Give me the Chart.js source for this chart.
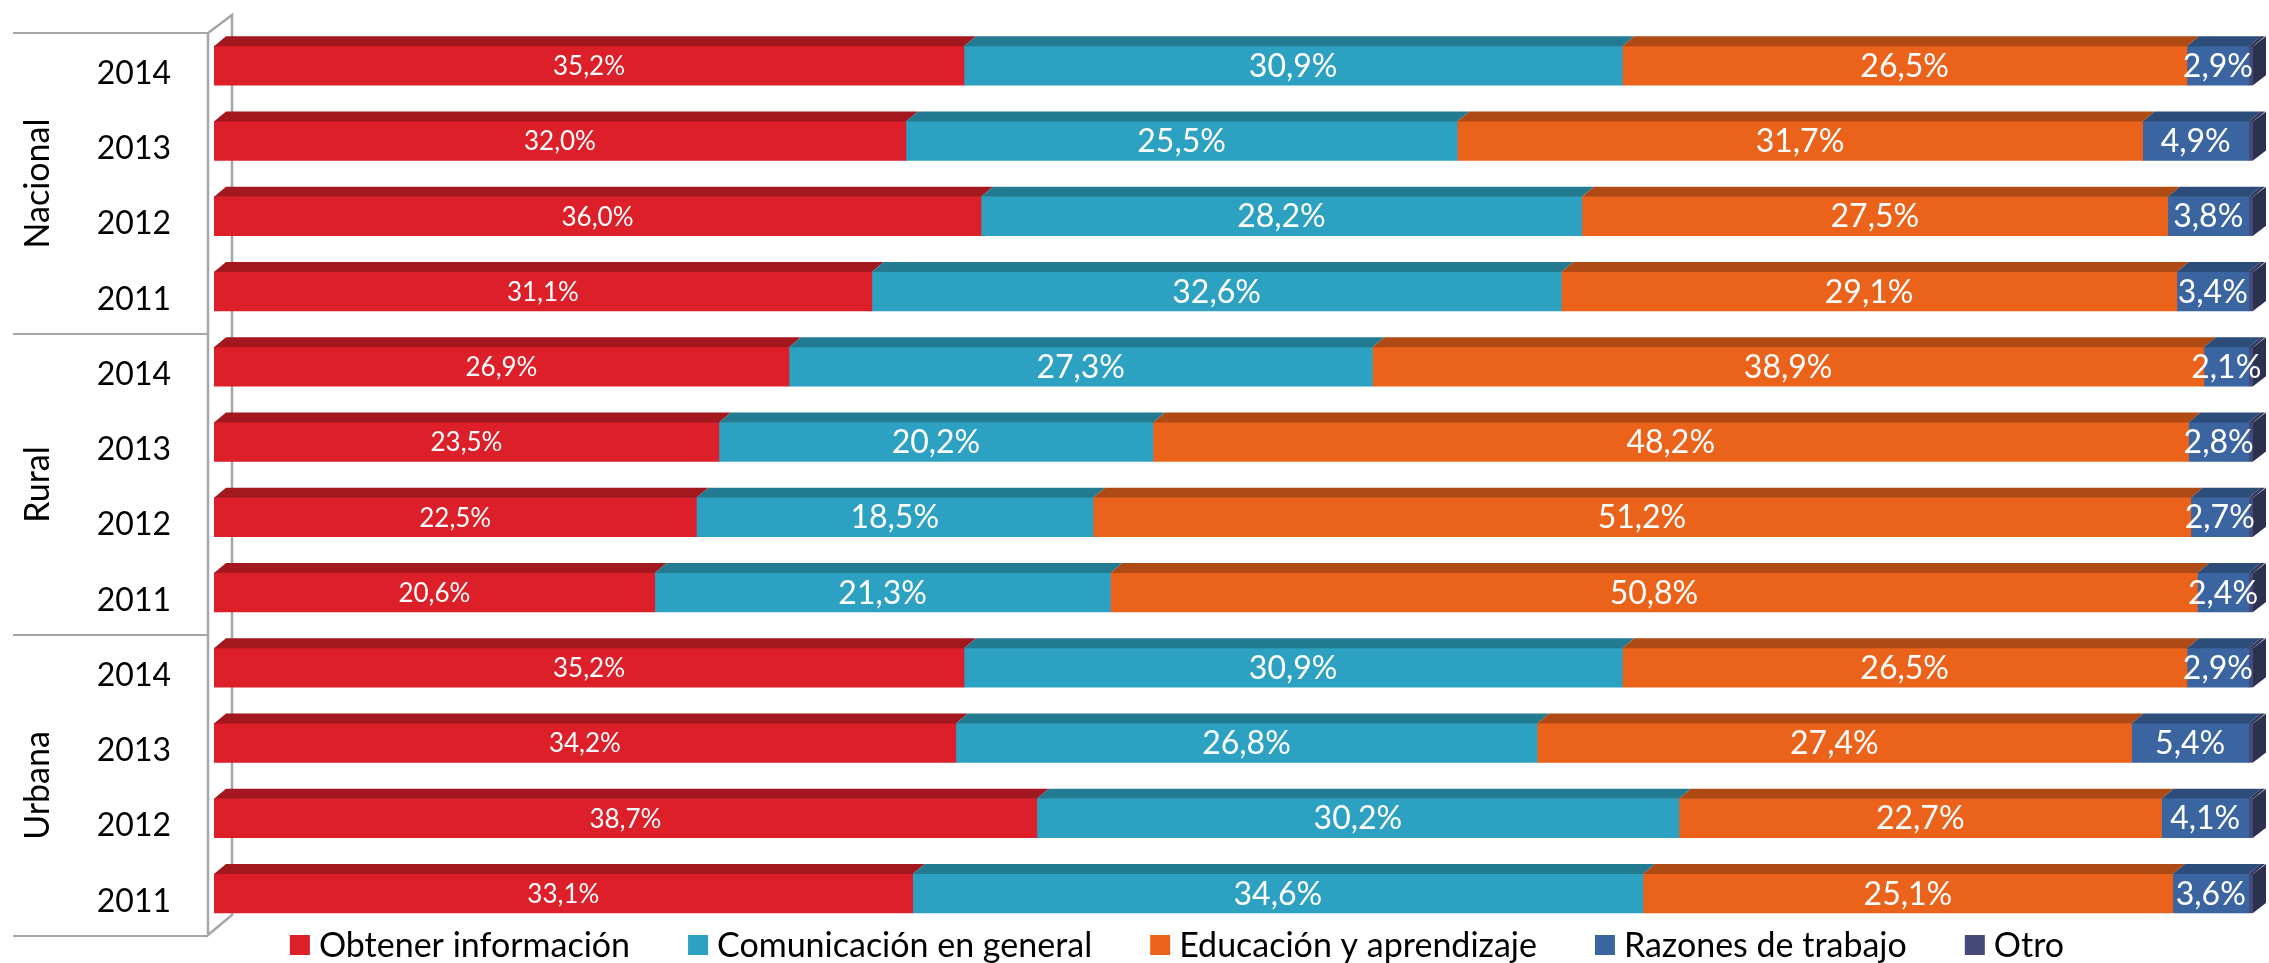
<!DOCTYPE html>
<html>
<head>
<meta charset="utf-8">
<script src="https://cdn.jsdelivr.net/npm/chart.js@4.4.1/dist/chart.umd.min.js"></script>
<style>
  html, body { margin: 0; padding: 0; background: #fff; }
  #wrap { width: 2269px; height: 963px; }
</style>
</head>
<body>
<div id="wrap"><canvas id="chart" width="2269" height="963"></canvas></div>
<script>
// ── DATA ─────────────────────────────────────────
const groups = ['Nacional', 'Rural', 'Urbana'];
const rowLabels = [
  '2014', '2013', '2012', '2011',
  '2014', '2013', '2012', '2011',
  '2014', '2013', '2012', '2011'
];

const obtenerInfo  = [35.2, 32.0, 36.0, 31.1, 26.9, 23.5, 22.5, 20.6, 35.2, 34.2, 38.7, 33.1];
const comunicacion = [30.9, 25.5, 28.2, 32.6, 27.3, 20.2, 18.5, 21.3, 30.9, 26.8, 30.2, 34.6];
const educacion    = [26.5, 31.7, 27.5, 29.1, 38.9, 48.2, 51.2, 50.8, 26.5, 27.4, 22.7, 25.1];
const trabajo      = [2.9, 4.9, 3.8, 3.4, 2.1, 2.8, 2.7, 2.4, 2.9, 5.4, 4.1, 3.6];
const otro         = [0.2, 0.2, 0.2, 0.2, 0.2, 0.2, 0.2, 0.2, 0.2, 0.2, 0.2, 0.2];

const FONT = 'Lato, "Open Sans", sans-serif';
const DEPTH_X = 12, DEPTH_Y = 10;

// bars are drawn as 100% stacked, so each row is scaled to its own total
const rawSeries = [obtenerInfo, comunicacion, educacion, trabajo, otro];
const totals = rowLabels.map((_, i) => rawSeries.reduce((s, arr) => s + arr[i], 0));
const share = arr => arr.map((v, i) => v / totals[i] * 100);

function ds(label, raw, front, top, labelSize) {
  return {
    label, data: share(raw), raw,
    backgroundColor: front, topColor: top, labelSize,
    barThickness: 39, borderWidth: 0
  };
}

const datasets = [
  ds('Obtener información', obtenerInfo, '#DC1F29', '#A3171F', 26),
  ds('Comunicación en general', comunicacion, '#2CA1C1', '#237B91', 32),
  ds('Educación y aprendizaje', educacion, '#EB631B', '#B04A14', 32),
  ds('Razones de trabajo', trabajo, '#3A65A0', '#2C4D79', 32),
  ds('Otro', otro, '#464A7B', '#343860', 0)
];

// back wall + group separators of the 3d frame
const wallPlugin = {
  id: 'wall',
  beforeDatasetsDraw(chart) {
    const { ctx, chartArea } = chart;
    const y = chart.scales.y;
    const step = y.getPixelForValue(1) - y.getPixelForValue(0);
    const top = y.getPixelForValue(0) - step / 2;
    const bottom = y.getPixelForValue(rowLabels.length - 1) + step / 2;
    const frontX = chartArea.left - 6, backX = chartArea.left + 18;
    ctx.save();
    ctx.strokeStyle = '#A6A6A6';
    ctx.lineWidth = 2.5;
    ctx.beginPath();
    ctx.moveTo(frontX, top + 5); ctx.lineTo(backX, top - 13);
    ctx.lineTo(backX, bottom - 16);
    ctx.lineTo(frontX, bottom + 4);
    ctx.lineTo(frontX, top + 5);
    ctx.stroke();

    ctx.lineWidth = 2;
    ctx.beginPath();
    for (let g = 0; g <= groups.length; g++) {
      const yy = Math.round(top + g * 4 * step + 5);
      ctx.moveTo(13, yy); ctx.lineTo(frontX, yy);
    }
    ctx.stroke();
    ctx.fillStyle = '#000';
    ctx.font = '34px ' + FONT;
    ctx.textAlign = 'center';
    ctx.textBaseline = 'middle';
    groups.forEach((g, gi) => {
      const cy = top + (gi * 4 + 2) * step + 5;
      ctx.save();
      ctx.translate(38, cy);
      ctx.rotate(-Math.PI / 2);
      ctx.fillText(g, 0, 0);
      ctx.restore();
    });
    ctx.restore();
  }
};

// top faces, end cap and value labels
const bar3dPlugin = {
  id: 'bar3d',
  afterDatasetsDraw(chart) {
    const { ctx } = chart;
    const last = chart.data.datasets.length - 1;
    ctx.save();
    chart.data.datasets.forEach((d, di) => {
      chart.getDatasetMeta(di).data.forEach(el => {
        const { x, y, base, height } = el.getProps(['x', 'y', 'base', 'height'], true);
        const t = y - height / 2, b = y + height / 2;
        ctx.fillStyle = d.topColor;
        ctx.beginPath();
        ctx.moveTo(base, t); ctx.lineTo(x, t);
        ctx.lineTo(x + DEPTH_X, t - DEPTH_Y); ctx.lineTo(base + DEPTH_X, t - DEPTH_Y);
        ctx.closePath(); ctx.fill();
        if (di === last) {
          ctx.fillStyle = '#2D3150';
          ctx.beginPath();
          ctx.moveTo(x, t); ctx.lineTo(x + DEPTH_X + 1, t - DEPTH_Y);
          ctx.lineTo(x + DEPTH_X + 1, b - DEPTH_Y); ctx.lineTo(x, b);
          ctx.closePath(); ctx.fill();
        }
      });
    });

    ctx.fillStyle = '#fff';
    ctx.textAlign = 'center';
    ctx.textBaseline = 'middle';
    chart.data.datasets.forEach((d, di) => {
      if (!d.labelSize) return;
      ctx.font = d.labelSize + 'px ' + FONT;
      chart.getDatasetMeta(di).data.forEach((el, i) => {
        const { x, y, base } = el.getProps(['x', 'y', 'base'], true);
        const txt = d.raw[i].toFixed(1).replace('.', ',') + '%';
        ctx.fillText(txt, (x + base) / 2, y + 1);
      });
    });
    ctx.restore();
  }
};

// legend along the bottom edge
const legendPlugin = {
  id: 'bottomLegend',
  afterDraw(chart) {
    const { ctx } = chart;
    const box = 20, boxGap = 9, itemGap = 58, cx = 1177, cy = 945;
    ctx.save();
    ctx.font = '34px ' + FONT;
    const items = chart.data.datasets.map(d => ({ d, w: ctx.measureText(d.label).width }));
    const total = items.reduce((s, it) => s + box + boxGap + it.w, 0) + itemGap * (items.length - 1);
    let x = cx - total / 2;
    ctx.textBaseline = 'middle';
    ctx.textAlign = 'left';
    items.forEach(it => {
      ctx.fillStyle = it.d.backgroundColor;
      ctx.fillRect(x, cy - box / 2, box, box);
      ctx.fillStyle = '#000';
      ctx.fillText(it.d.label, x + box + boxGap, cy + 1);
      x += box + boxGap + it.w + itemGap;
    });
    ctx.restore();
  }
};

// ── CHART ────────────────────────────────────────
new Chart(document.getElementById('chart').getContext('2d'), {
  type: 'bar',
  data: { labels: rowLabels, datasets },
  options: {
    indexAxis: 'y',
    responsive: false,
    animation: false,
    layout: { padding: { top: 28, right: 16, bottom: 32, left: 0 } },
    plugins: { legend: { display: false }, tooltip: { enabled: false } },
    scales: {
      x: { stacked: true, min: 0, max: 100, display: false },
      y: {
        stacked: true,
        grid: { display: false, drawTicks: true, tickLength: 43 },
        border: { display: false },
        ticks: { font: { family: FONT, size: 32 }, color: '#000', padding: 0, labelOffset: 8 },
        afterFit(scale) { scale.width = 214; }
      }
    }
  },
  plugins: [wallPlugin, bar3dPlugin, legendPlugin]
});
</script>
</body>
</html>
